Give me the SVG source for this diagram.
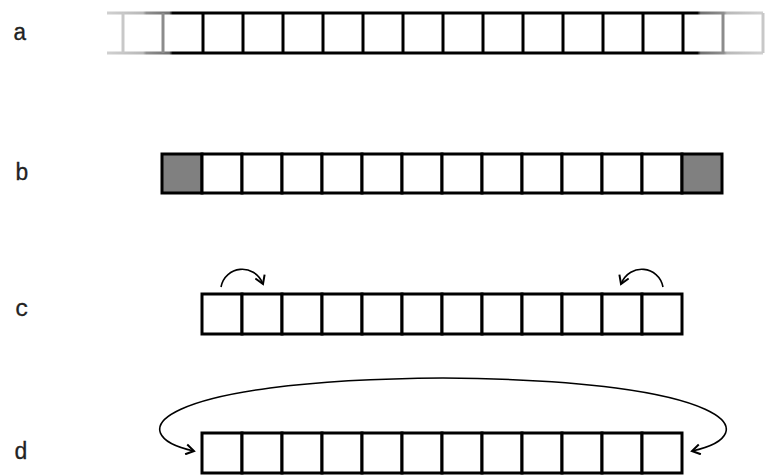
<svg xmlns="http://www.w3.org/2000/svg" width="769" height="476" viewBox="0 0 769 476">
<defs>
<marker id="arr" viewBox="0 0 12 12" refX="10" refY="6" markerWidth="12" markerHeight="12" markerUnits="userSpaceOnUse" orient="auto">
<path d="M2,1 L10,6 L2,11" fill="none" stroke="#000" stroke-width="2"/>
</marker>
<linearGradient id="fade" x1="107" y1="0" x2="763" y2="0" gradientUnits="userSpaceOnUse">
<stop offset="0" stop-color="#d0d0d0"/>
<stop offset="0.055" stop-color="#b8b8b8"/>
<stop offset="0.06" stop-color="#909090"/>
<stop offset="0.095" stop-color="#707070"/>
<stop offset="0.1" stop-color="#000"/>
<stop offset="0.9" stop-color="#000"/>
<stop offset="0.905" stop-color="#707070"/>
<stop offset="0.94" stop-color="#909090"/>
<stop offset="0.945" stop-color="#b8b8b8"/>
<stop offset="1" stop-color="#d0d0d0"/>
</linearGradient>
</defs>
<style>
.lbl{font-family:"Liberation Mono","DejaVu Sans Mono",monospace;font-size:23px;fill:#222;text-anchor:middle;stroke:#222;stroke-width:0.3}
.cell{fill:#fff;stroke:#000;stroke-width:3}
.grey{fill:#808080;stroke:#000;stroke-width:3}
.conn{fill:none;stroke:#000;stroke-width:1.6}
</style>

<g id="label-a"><text class="lbl" x="20" y="40">a</text></g>
<g id="label-b"><text class="lbl" x="22" y="180">b</text></g>
<g id="label-c"><text class="lbl" x="22" y="316">c</text></g>
<g id="label-d"><text class="lbl" x="21" y="459">d</text></g>

<g id="row-a">
<line x1="107" y1="13" x2="763" y2="13" stroke="url(#fade)" stroke-width="3"/>
<line x1="107" y1="53" x2="763" y2="53" stroke="url(#fade)" stroke-width="3"/>
<g stroke-width="3">
<line x1="123" y1="13" x2="123" y2="53" stroke="#c8c8c8"/>
<line x1="163" y1="13" x2="163" y2="53" stroke="#8c8c8c"/>
<line x1="723" y1="13" x2="723" y2="53" stroke="#8c8c8c"/>
<line x1="763" y1="13" x2="763" y2="53" stroke="#c8c8c8"/>
</g>
<g stroke="#000" stroke-width="3">
<line x1="203" y1="13" x2="203" y2="53"/><line x1="243" y1="13" x2="243" y2="53"/>
<line x1="283" y1="13" x2="283" y2="53"/><line x1="323" y1="13" x2="323" y2="53"/>
<line x1="363" y1="13" x2="363" y2="53"/><line x1="403" y1="13" x2="403" y2="53"/>
<line x1="443" y1="13" x2="443" y2="53"/><line x1="483" y1="13" x2="483" y2="53"/>
<line x1="523" y1="13" x2="523" y2="53"/><line x1="563" y1="13" x2="563" y2="53"/>
<line x1="603" y1="13" x2="603" y2="53"/><line x1="643" y1="13" x2="643" y2="53"/>
<line x1="683" y1="13" x2="683" y2="53"/>
</g>
</g>

<g id="row-b">
<rect class="grey" x="162" y="154" width="40" height="39"/>
<rect class="cell" x="202" y="154" width="40" height="39"/>
<rect class="cell" x="242" y="154" width="40" height="39"/>
<rect class="cell" x="282" y="154" width="40" height="39"/>
<rect class="cell" x="322" y="154" width="40" height="39"/>
<rect class="cell" x="362" y="154" width="40" height="39"/>
<rect class="cell" x="402" y="154" width="40" height="39"/>
<rect class="cell" x="442" y="154" width="40" height="39"/>
<rect class="cell" x="482" y="154" width="40" height="39"/>
<rect class="cell" x="522" y="154" width="40" height="39"/>
<rect class="cell" x="562" y="154" width="40" height="39"/>
<rect class="cell" x="602" y="154" width="40" height="39"/>
<rect class="cell" x="642" y="154" width="40" height="39"/>
<rect class="grey" x="682" y="154" width="40" height="39"/>
</g>

<g id="row-c">
<rect class="cell" x="202" y="294" width="40" height="40"/>
<rect class="cell" x="242" y="294" width="40" height="40"/>
<rect class="cell" x="282" y="294" width="40" height="40"/>
<rect class="cell" x="322" y="294" width="40" height="40"/>
<rect class="cell" x="362" y="294" width="40" height="40"/>
<rect class="cell" x="402" y="294" width="40" height="40"/>
<rect class="cell" x="442" y="294" width="40" height="40"/>
<rect class="cell" x="482" y="294" width="40" height="40"/>
<rect class="cell" x="522" y="294" width="40" height="40"/>
<rect class="cell" x="562" y="294" width="40" height="40"/>
<rect class="cell" x="602" y="294" width="40" height="40"/>
<rect class="cell" x="642" y="294" width="40" height="40"/>
</g>

<g id="row-d">
<rect class="cell" x="202" y="433" width="40" height="40"/>
<rect class="cell" x="242" y="433" width="40" height="40"/>
<rect class="cell" x="282" y="433" width="40" height="40"/>
<rect class="cell" x="322" y="433" width="40" height="40"/>
<rect class="cell" x="362" y="433" width="40" height="40"/>
<rect class="cell" x="402" y="433" width="40" height="40"/>
<rect class="cell" x="442" y="433" width="40" height="40"/>
<rect class="cell" x="482" y="433" width="40" height="40"/>
<rect class="cell" x="522" y="433" width="40" height="40"/>
<rect class="cell" x="562" y="433" width="40" height="40"/>
<rect class="cell" x="602" y="433" width="40" height="40"/>
<rect class="cell" x="642" y="433" width="40" height="40"/>
</g>

<g id="connectors">
<path class="conn" d="M221,287 C225,266 254,262 263,284" marker-end="url(#arr)"/>
<path class="conn" d="M663,287 C659,266 630,262 621,284" marker-end="url(#arr)"/>
<path class="conn" d="M443,378 C150,380 120,435 194,451" marker-end="url(#arr)"/>
<path class="conn" d="M443,378 C736,380 766,435 692,451" marker-end="url(#arr)"/>
</g>
</svg>
